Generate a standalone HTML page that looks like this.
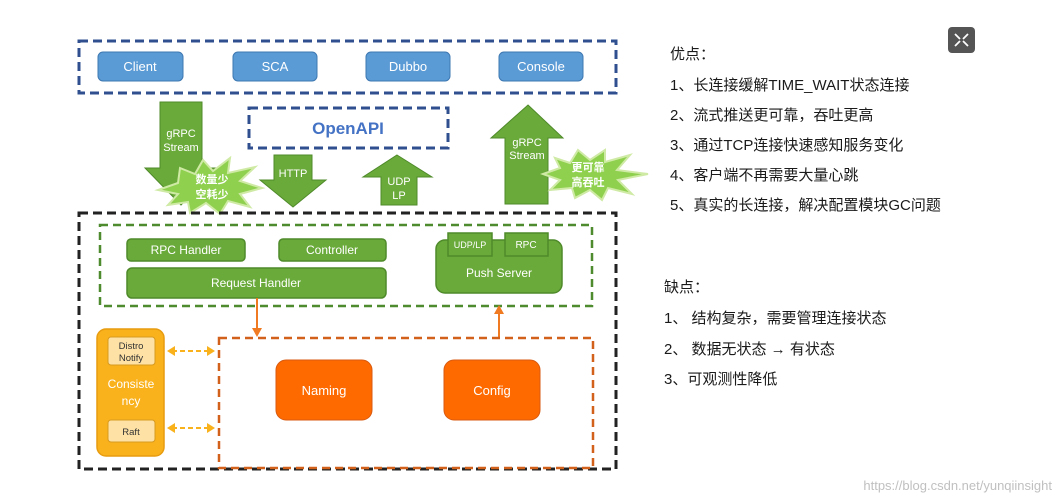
<!DOCTYPE html>
<html><head><meta charset="utf-8"><style>
body{margin:0;background:#fff;width:1061px;height:503px;overflow:hidden;font-family:"Liberation Sans","Noto Sans CJK SC",sans-serif;}
.t{position:absolute;font-size:15px;color:#1a1a1a;white-space:nowrap;font-family:"Liberation Sans","Noto Sans CJK SC",sans-serif;}
</style></head><body>
<svg width="1061" height="503" style="position:absolute;left:0;top:0" font-family="Liberation Sans, Noto Sans CJK SC, sans-serif">
<rect x="79" y="41" width="537" height="52" fill="none" stroke="#2f4f8f" stroke-width="3" stroke-dasharray="9,5"/>
<g fill="#5b9bd5" stroke="#3e78b2" stroke-width="1">
<rect x="98" y="52" width="85" height="29" rx="5"/>
<rect x="233" y="52" width="84" height="29" rx="5"/>
<rect x="366" y="52" width="84" height="29" rx="5"/>
<rect x="499" y="52" width="84" height="29" rx="5"/>
</g>
<g fill="#fff" font-size="13" text-anchor="middle">
<text x="140" y="71">Client</text><text x="275" y="71">SCA</text><text x="408" y="71">Dubbo</text><text x="541" y="71">Console</text>
</g>
<rect x="249" y="108" width="199" height="40" fill="none" stroke="#2f4f8f" stroke-width="3" stroke-dasharray="9,5"/>
<text x="348" y="134" fill="#4472c4" font-size="17" font-weight="bold" text-anchor="middle">OpenAPI</text>
<g fill="#6aaa3a" stroke="#4f8a2a" stroke-width="1">
<polygon points="160,102 202,102 202,168 216,168 181,205 145,168 160,168"/>
<polygon points="274,155 312,155 312,180 326,180 293,207 260,180 274,180"/>
<polygon points="397,155 432,177 417,177 417,205 381,205 381,177 363,177"/>
<polygon points="528,105 563,138 548,138 548,204 505,204 505,138 491,138"/>
</g>
<g fill="#fff" font-size="11" text-anchor="middle">
<text x="181" y="137">gRPC</text><text x="181" y="151">Stream</text>
<text x="293" y="177">HTTP</text>
<text x="399" y="185">UDP</text><text x="399" y="199">LP</text>
<text x="527" y="146">gRPC</text><text x="527" y="159">Stream</text>
</g>
<polygon points="180,168 195,174 203,160 213,171 230,158 228,173 255,167 240,181 262,188 240,194 250,207 228,201 220,214 206,203 190,213 188,202 168,205 178,194 158,190 178,183" fill="#8fd14f" stroke="#cfeaa5" stroke-width="2"/>
<text x="212" y="183" fill="#fff" font-size="11" font-weight="bold" text-anchor="middle">数量少</text>
<text x="212" y="198" fill="#fff" font-size="11" font-weight="bold" text-anchor="middle">空耗少</text>
<polygon points="555,158 570,163 578,150 590,160 605,150 605,162 630,155 617,170 648,174 618,180 632,194 608,188 602,200 590,190 575,198 572,188 550,190 560,180 543,174 560,168" fill="#8fd14f" stroke="#cfeaa5" stroke-width="2"/>
<text x="588" y="171" fill="#fff" font-size="11" font-weight="bold" text-anchor="middle">更可靠</text>
<text x="588" y="186" fill="#fff" font-size="11" font-weight="bold" text-anchor="middle">高吞吐</text>
<rect x="79" y="213" width="537" height="256" fill="none" stroke="#222" stroke-width="3" stroke-dasharray="9,5"/>
<rect x="100" y="225" width="492" height="81" fill="none" stroke="#4e8a2e" stroke-width="2.5" stroke-dasharray="8,5"/>
<g fill="#6aaa3a" stroke="#4f8a2a" stroke-width="1.5">
<rect x="127" y="239" width="118" height="22" rx="4"/>
<rect x="279" y="239" width="107" height="22" rx="4"/>
<rect x="127" y="268" width="259" height="30" rx="5"/>
<rect x="436" y="240" width="126" height="53" rx="9"/>
<rect x="448" y="233" width="44" height="23"/>
<rect x="505" y="233" width="43" height="23"/>
</g>
<g fill="#fff" text-anchor="middle" font-size="12">
<text x="186" y="254">RPC Handler</text><text x="332" y="254">Controller</text>
<text x="256" y="287">Request Handler</text>
<text x="499" y="277">Push Server</text>
<text x="470" y="248" font-size="9">UDP/LP</text><text x="526" y="248" font-size="10">RPC</text>
</g>
<line x1="257" y1="298" x2="257" y2="330" stroke="#f07a22" stroke-width="2"/>
<polygon points="252,328 262,328 257,337" fill="#f07a22"/>
<line x1="499" y1="338" x2="499" y2="312" stroke="#f07a22" stroke-width="2"/>
<polygon points="494,314 504,314 499,305" fill="#f07a22"/>
<rect x="97" y="329" width="67" height="127" rx="9" fill="#f9b11c" stroke="#e89c10" stroke-width="1.5"/>
<rect x="108" y="337" width="47" height="28" rx="3" fill="#fde1a5" stroke="#d89a20"/>
<rect x="108" y="420" width="47" height="22" rx="3" fill="#fde1a5" stroke="#d89a20"/>
<g text-anchor="middle" font-size="9.5" fill="#333">
<text x="131" y="349">Distro</text><text x="131" y="361">Notify</text><text x="131" y="435">Raft</text>
</g>
<text x="131" y="388" fill="#fff" font-size="12" text-anchor="middle">Consiste</text>
<text x="131" y="405" fill="#fff" font-size="12" text-anchor="middle">ncy</text>
<g stroke="#f9b11c" stroke-width="2" stroke-dasharray="5,3"><line x1="172" y1="351" x2="209" y2="351"/><line x1="172" y1="428" x2="209" y2="428"/></g>
<g fill="#f9b11c"><polygon points="167,351 175,346 175,356"/><polygon points="215,351 207,346 207,356"/><polygon points="167,428 175,423 175,433"/><polygon points="215,428 207,423 207,433"/></g>
<rect x="219" y="338" width="374" height="130" fill="none" stroke="#d2611c" stroke-width="2.5" stroke-dasharray="8,5"/>
<rect x="276" y="360" width="96" height="60" rx="10" fill="#ff6a00" stroke="#d85a10"/>
<rect x="444" y="360" width="96" height="60" rx="10" fill="#ff6a00" stroke="#d85a10"/>
<text x="324" y="395" fill="#fff" font-size="13" text-anchor="middle">Naming</text>
<text x="492" y="395" fill="#fff" font-size="13" text-anchor="middle">Config</text>
<rect x="948" y="27" width="27" height="26" rx="4" fill="#555"/>
<g stroke="#fff" stroke-width="1.8"><line x1="955" y1="34" x2="960" y2="39"/><line x1="968" y1="34" x2="963" y2="39"/><line x1="955" y1="46" x2="960" y2="41"/><line x1="968" y1="46" x2="963" y2="41"/></g>
<text x="1052" y="490" fill="#c0c0c0" font-size="13" text-anchor="end">https://blog.csdn.net/yunqiinsight</text>
</svg>
<div class="t" style="left:670px;top:43px">优点：</div>
<div class="t" style="left:670px;top:74px">1、长连接缓解TIME_WAIT状态连接</div>
<div class="t" style="left:670px;top:104px">2、流式推送更可靠，吞吐更高</div>
<div class="t" style="left:670px;top:134px">3、通过TCP连接快速感知服务变化</div>
<div class="t" style="left:670px;top:164px">4、客户端不再需要大量心跳</div>
<div class="t" style="left:670px;top:194px">5、真实的长连接，解决配置模块GC问题</div>
<div class="t" style="left:664px;top:276px">缺点：</div>
<div class="t" style="left:664px;top:307px">1、 结构复杂，需要管理连接状态</div>
<div class="t" style="left:664px;top:338px">2、 数据无状态 → 有状态</div>
<div class="t" style="left:664px;top:368px">3、可观测性降低</div>
</body></html>
